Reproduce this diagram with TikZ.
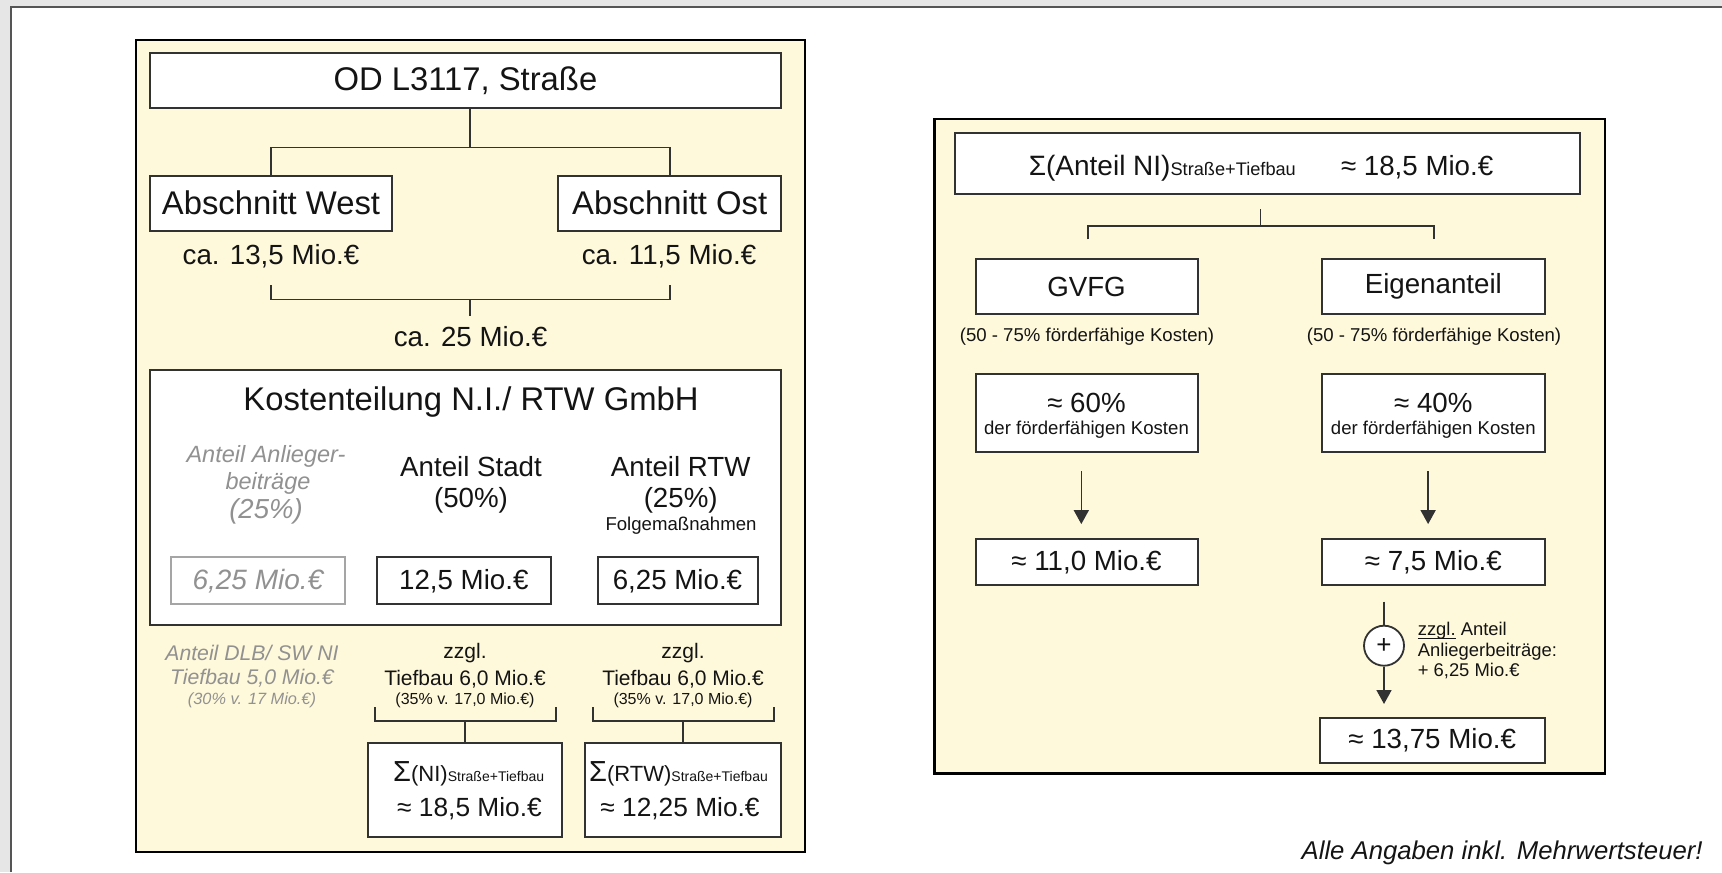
\documentclass[tikz,border=0pt]{standalone}
\usepackage{fontspec}
\setmainfont{Liberation Sans}
\usetikzlibrary{arrows.meta}
\definecolor{bgray}{RGB}{230,230,230}
\definecolor{paper}{RGB}{255,249,219}
\definecolor{framec}{RGB}{85,85,85}
\definecolor{ink}{RGB}{20,20,20}
\definecolor{lgray}{RGB}{145,145,145}
\definecolor{bline}{RGB}{50,50,50}
\definecolor{gline}{RGB}{165,165,165}
\newcommand\myul[1]{\setbox0\hbox{#1}\rlap{\rule[-1.3pt]{\wd0}{0.5pt}}\box0\relax}
\begin{document}
\begin{tikzpicture}[x=0.5pt,y=-0.5pt,
  box/.style={draw=bline, line width=1pt, fill=white, rectangle, inner sep=0pt, text=ink},
  conn/.style={draw=bline, line width=0.8pt},
  arr/.style={conn, -{Triangle[width=7.5pt,length=7pt]}},
  txt/.style={inner sep=0pt, text=ink},
  panel/.style={fill=paper, draw=black, line width=1.2pt},
  F33/.style={font=\fontsize{16.4}{19.7}\selectfont},
  F28/.style={font=\fontsize{13.85}{16.6}\selectfont},
  F26/.style={font=\fontsize{13.15}{15.8}\selectfont},
  F21/.style={font=\fontsize{10.5}{12.6}\selectfont},
  F19/.style={font=\fontsize{9.3}{11.2}\selectfont},
  F16/.style={font=\fontsize{8}{9.6}\selectfont},
  G23/.style={inner sep=0pt, text=lgray, font=\fontsize{11.75}{14}\selectfont\itshape},
  G28/.style={inner sep=0pt, text=lgray, font=\fontsize{13.75}{16.5}\selectfont\itshape},
  G21/.style={inner sep=0pt, text=lgray, font=\fontsize{10.6}{12.7}\selectfont\itshape},
  G16/.style={inner sep=0pt, text=lgray, font=\fontsize{8.15}{9.8}\selectfont\itshape}
]
\useasboundingbox (0,0) rectangle (1722,872);
% background frame
\fill[bgray] (0,0) rectangle (1722,872);
\fill[white] (11,7) rectangle (1722,872);
\draw[framec, line width=1pt] (11,872) -- (11,7) -- (1722,7);

% ================= left panel =================
\draw[panel] (136,40) rectangle (805,852);

\node[box, F33, minimum width=315.9pt, minimum height=27.8pt] (title) at (465.4,80.5) {OD L3117, Straße};
\node[box, F33, minimum width=121.45pt, minimum height=27.5pt] (west) at (271,203.2) {Abschnitt West};
\node[box, F33, minimum width=111.65pt, minimum height=27.5pt] (ost) at (669.7,203.2) {Abschnitt Ost};
\coordinate (j1) at (470,147.3);
\draw[conn] (title.south -| j1) -- (j1);
\draw[conn] (west.north) |- (j1) -| (ost.north);

\node[txt, F28] (cw) at (271,256.7) {ca. 13,5 Mio.€};
\node[txt, F28] (co) at (669,256.7) {ca. 11,5 Mio.€};
\node[txt, F28] (ctot) at (470.6,336.7) {ca. 25 Mio.€};
\coordinate (bw) at (271,285);
\coordinate (bo) at (670,285);
\coordinate (j2) at (470,299.3);
\coordinate (j2b) at (470,315.7);
\draw[conn] (bw) |- (j2) -| (bo);
\draw[conn] (j2) -- (j2b);

% Kostenteilung
\node[box, minimum width=315.75pt, minimum height=127.25pt] (kost) at (465.3,497.3) {};
\node[txt, F33] (kt) at (471,401.7) {Kostenteilung N.I./ RTW GmbH};
\node[G23] (an1) at (266,456.7) {Anteil Anlieger-};
\node[G23] (an2) at (268,483.3) {beiträge};
\node[G28] (an3) at (266,511.7) {(25\%)};
\node[txt, F28] (st1) at (471,466.7) {Anteil Stadt};
\node[txt, F28] (st2) at (471,500) {(50\%)};
\node[txt, F28] (rt1) at (680.7,466.7) {Anteil RTW};
\node[txt, F28] (rt2) at (680.7,500) {(25\%)};
\node[txt, F19] (rt3) at (681,525.7) {Folgemaßnahmen};
\node[box, draw=gline, text=lgray, font=\fontsize{14}{16.8}\selectfont\itshape, minimum width=86.85pt, minimum height=23.5pt] (ga) at (257.9,580.8) {6,25 Mio.€};
\node[box, F28, minimum width=86.8pt, minimum height=23.5pt] (gs) at (463.8,580.8) {12,5 Mio.€};
\node[box, F28, minimum width=80pt, minimum height=23.5pt] (gr) at (677.5,580.8) {6,25 Mio.€};

% lower part
\node[G21] (d1) at (252,653) {Anteil DLB/ SW NI};
\node[G21] (d2) at (252,678) {Tiefbau 5,0 Mio.€};
\node[G16] (d3) at (252,700) {(30\% v. 17 Mio.€)};

\node[txt, F21] (za1) at (465,653) {zzgl.};
\node[txt, F21] (za2) at (465,679) {Tiefbau 6,0 Mio.€};
\node[txt, F16] (za3) at (465,700) {(35\% v. 17,0 Mio.€)};
\node[txt, F21] (zb1) at (683,653) {zzgl.};
\node[txt, F21] (zb2) at (683,679) {Tiefbau 6,0 Mio.€};
\node[txt, F16] (zb3) at (683,700) {(35\% v. 17,0 Mio.€)};

\node[box, minimum width=97.35pt, minimum height=47.15pt] (sum1) at (465,790.2) {};
\node[box, minimum width=97.75pt, minimum height=47.15pt] (sum2) at (682.8,790.2) {};
\node[txt] (s1a) at (468.7,774) {{\fontsize{14.5}{14}\selectfont Σ}{\fontsize{11}{11}\selectfont(NI)}{\fontsize{7}{7}\selectfont Straße+Tiefbau}};
\node[txt, F26] (s1b) at (469.5,808.3) {≈ 18,5 Mio.€};
\node[txt] (s2a) at (678.5,774) {{\fontsize{14.5}{14}\selectfont Σ}{\fontsize{11}{11}\selectfont(RTW)}{\fontsize{7}{7}\selectfont Straße+Tiefbau}};
\node[txt, F26] (s2b) at (680,808.3) {≈ 12,25 Mio.€};

\coordinate (k1l) at (375,707);
\coordinate (k1r) at (556,707);
\coordinate (k1m) at (465,720.7);
\draw[conn] (k1l) |- (k1m) -| (k1r);
\draw[conn] (k1m) -- (sum1.north);
\coordinate (k2l) at (593,707);
\coordinate (k2r) at (774,707);
\coordinate (k2m) at (682.8,720.7);
\draw[conn] (k2l) |- (k2m) -| (k2r);
\draw[conn] (k2m) -- (sum2.north);

% ================= right panel =================
\draw[panel] (934.3,119.3) rectangle (1605,773.3);

\node[box, minimum width=312.65pt, minimum height=30.35pt] (tot) at (1267.4,163.7) {};
\node[txt, anchor=base west] (tot1) at (1028.4,175) {{\fontsize{14}{14}\selectfont Σ(Anteil NI)}{\fontsize{9.1}{9.1}\selectfont Straße+Tiefbau}};
\node[txt, anchor=base west, F28] (tot2) at (1340.6,175) {≈ 18,5 Mio.€};

\coordinate (r0) at (1260.4,209.3);
\coordinate (rj) at (1260.4,226);
\coordinate (rl) at (1087.8,239.3);
\coordinate (rr) at (1433.9,239.3);
\draw[conn] (r0) -- (rj);
\draw[conn] (rl) |- (rj) -| (rr);

\node[box, F28, minimum width=111pt, minimum height=27.35pt] (gvfg) at (1086.5,286.7) {GVFG};
\node[box, F28, minimum width=111.25pt, minimum height=27.35pt] (eig) at (1433.3,286.7) {Eigenanteil};
\node[txt, F19] (f1) at (1087,336.7) {(50 - 75\% förderfähige Kosten)};
\node[txt, F19] (f2) at (1434,336.7) {(50 - 75\% förderfähige Kosten)};

\node[box, minimum width=111pt, minimum height=38.85pt] (p60) at (1086.5,412.9) {};
\node[txt, F28] (p60a) at (1086.5,403.3) {≈ 60\%};
\node[txt, F19] (p60b) at (1086.5,429.3) {der förderfähigen Kosten};
\node[box, minimum width=111.25pt, minimum height=38.85pt] (p40) at (1433.3,412.9) {};
\node[txt, F28] (p40a) at (1433.3,403.3) {≈ 40\%};
\node[txt, F19] (p40b) at (1433.3,429.3) {der förderfähigen Kosten};

\node[box, F28, minimum width=111pt, minimum height=23pt] (r11) at (1086.5,562.3) {≈ 11,0 Mio.€};
\node[box, F28, minimum width=111.25pt, minimum height=23pt] (r75) at (1433.3,562.3) {≈ 7,5 Mio.€};

\draw[arr] ([xshift=-2.6pt,yshift=-9.2pt]p60.south) -- ([xshift=-2.6pt,yshift=7.1pt]r11.north);
\draw[arr] ([xshift=-2.6pt,yshift=-9.2pt]p40.south) -- ([xshift=-2.6pt,yshift=7.1pt]r75.north);

\node[circle, draw=bline, fill=white, line width=0.9pt, minimum size=20pt, inner sep=0pt, text=ink, font=\fontsize{13}{13}\selectfont] (plus) at (1384,645.7) {+};
\coordinate (pl0) at (1384,601.7);
\coordinate (pl1) at (1384,704);
\draw[conn] (pl0) -- (plus.north);
\draw[arr] (plus.south) -- (pl1);
\node[txt, anchor=west, align=left, font=\fontsize{9.2}{10.25}\selectfont] (zz) at (1417.4,651) {\myul{zzgl.} Anteil\\Anliegerbeiträge:\\+ 6,25 Mio.€};

\node[box, F28, minimum width=112.35pt, minimum height=22.8pt] (r1375) at (1432.2,740.5) {≈ 13,75 Mio.€};

\node[txt, anchor=base east, font=\fontsize{12.85}{15}\selectfont\itshape] (note) at (1703,859.5) {Alle Angaben inkl. Mehrwertsteuer!};
\end{tikzpicture}
\end{document}
